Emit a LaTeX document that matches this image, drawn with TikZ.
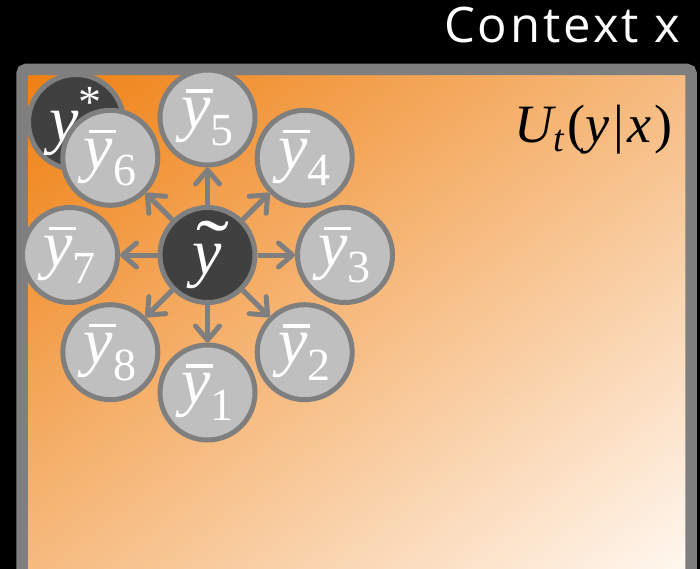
\RequirePackage{fix-cm}
\documentclass[tikz,border=0pt]{standalone}
\usepackage{graphicx}
\usepackage{fontspec}
\newfontfamily\ctxfont[LetterSpace=6]{Open Sans}
\newfontfamily\srf{Liberation Serif}
\usetikzlibrary{arrows.meta,shadings}
\definecolor{bordergray}{HTML}{7F7F7F}
\definecolor{lightg}{HTML}{BFBFBF}
\definecolor{darkg}{HTML}{404040}
\definecolor{orTL}{HTML}{EF7F10}
\definecolor{orMid}{HTML}{F6BB80}
\definecolor{orBR}{HTML}{FFF9F3}
\newcommand\iy{\hbox{\srf\itshape y}}
\newcommand\sub[1]{\hbox{\srf\fontsize{46}{46}\selectfont #1}}
\newcommand\ybr[1]{$\rlap{\kern5pt\rule[36pt]{27pt}{3.5pt}}\iy_{\sub{#1}}$}
\newcommand\ytl{\rlap{\kern4pt\scalebox{1.5}[1.2]{\srf\symbol{"02DC}}}\hbox{\srf\itshape y}}
\begin{document}
\begin{tikzpicture}[x=1pt,y=-1pt,
  ball/.style={circle, minimum size=95pt, inner sep=0pt, line width=5pt,
    draw=bordergray, fill=lightg, text=white, font=\fontsize{66}{70}\selectfont},
  darkball/.style={ball, fill=darkg},
  ray/.style={draw=bordergray, line width=5pt, -{Straight Barb[length=14pt,width=24pt,round]}}
]
\useasboundingbox (0,0) rectangle (700,569);
\clip (0,0) rectangle (700,569);
\fill[black] (0,0) rectangle (700,569);
\shade[upper left=orTL, upper right=orMid, lower left=orMid, lower right=orBR]
  (22,69.5) rectangle (691,580);
\draw[bordergray, line width=11.5pt, rounded corners=4pt] (22,69.5) rectangle (691,580);

\node[anchor=base east, text=white, font=\ctxfont\fontsize{49}{54}\selectfont] (ctx) at (684,43) {Context x};
\node[anchor=base east, text=black, font=\srf\fontsize{54}{58}\selectfont] (u) at (676,143)
  {\itshape U$_{\hbox{\srf\itshape\fontsize{38}{38}\selectfont t}}$\kern3pt\upshape(\itshape y\kern4pt\upshape|\kern3pt\itshape x\kern3pt\upshape)};

\node[darkball] (ys) at (76,122) {$\iy^{\hbox{\srf\fontsize{46}{46}\selectfont *}}$};
\node[darkball] (c) at (207.5,255) {\ytl};
\node[ball] (y1) at (207.5,392.5) {\ybr{1}};
\node[ball] (y2) at (304.7,352.2) {\ybr{2}};
\node[ball] (y3) at (345,255) {\ybr{3}};
\node[ball] (y4) at (304.7,157.8) {\ybr{4}};
\node[ball] (y5) at (207.5,117.5) {\ybr{5}};
\node[ball] (y6) at (110.3,157.8) {\ybr{6}};
\node[ball] (y7) at (70,255) {\ybr{7}};
\node[ball] (y8) at (110.3,352.2) {\ybr{8}};

\foreach \t in {y1,y2,y3,y4,y5,y6,y7,y8}
  \draw[ray] (c) -- (\t);
\end{tikzpicture}
\end{document}
